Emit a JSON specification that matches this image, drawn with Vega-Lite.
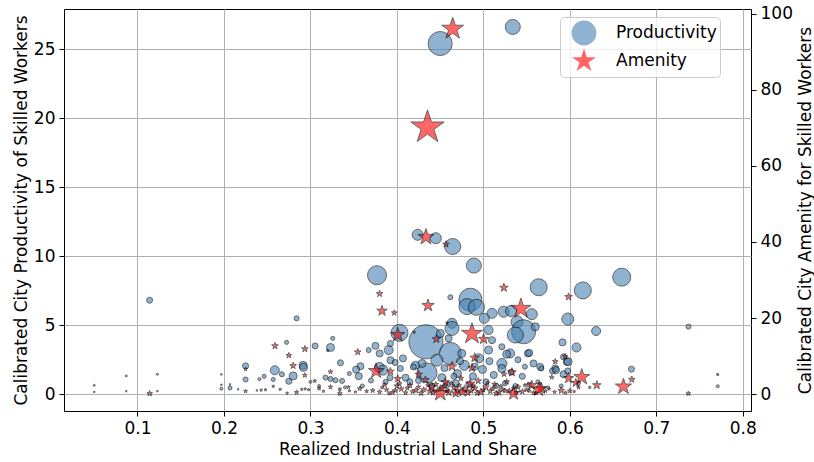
{
  "$schema": "https://vega.github.io/schema/vega-lite/v6.json",
  "width": 687,
  "height": 402,
  "autosize": {"type": "none"},
  "padding": {"left": 64, "top": 9, "right": 63, "bottom": 51},
  "background": "white",
  "config": {
    "font": "DejaVu Sans",
    "view": {"stroke": "black", "strokeWidth": 1},
    "axis": {
      "labelFont": "DejaVu Sans", "labelFontSize": 17, "labelColor": "black",
      "titleFont": "DejaVu Sans", "titleFontSize": 17, "titleFontWeight": "normal", "titleColor": "black",
      "tickColor": "black", "tickSize": 5, "tickWidth": 1, "domain": false,
      "gridColor": "#b0b0b0", "gridWidth": 1, "labelPadding": 4
    },
    "legend": {
      "labelFont": "DejaVu Sans", "labelFontSize": 17, "labelColor": "black",
      "symbolSize": 620, "symbolStrokeColor": "black", "symbolStrokeWidth": 1, "symbolOpacity": 0.6,
      "padding": 3, "rowPadding": -4, "symbolOffset": 8, "labelOffset": 19,
      "fillColor": "rgba(255,255,255,0.8)", "strokeColor": "#cccccc", "cornerRadius": 4
    }
  },
  "data": {
    "values": [
      {"series": "Productivity", "share": 0.534, "value": 26.6, "pop": 2.25},
      {"series": "Productivity", "share": 0.450, "value": 25.4, "pop": 5.76},
      {"series": "Productivity", "share": 0.424, "value": 11.55, "pop": 1.21},
      {"series": "Productivity", "share": 0.445, "value": 11.3, "pop": 1.21},
      {"series": "Productivity", "share": 0.4645, "value": 10.7, "pop": 2.56},
      {"series": "Productivity", "share": 0.489, "value": 9.32, "pop": 2.25},
      {"series": "Productivity", "share": 0.377, "value": 8.62, "pop": 3.61},
      {"series": "Productivity", "share": 0.660, "value": 8.48, "pop": 3.24},
      {"series": "Productivity", "share": 0.564, "value": 7.75, "pop": 2.89},
      {"series": "Productivity", "share": 0.615, "value": 7.52, "pop": 2.89},
      {"series": "Productivity", "share": 0.114, "value": 6.81, "pop": 0.36},
      {"series": "Productivity", "share": 0.4618, "value": 7.03, "pop": 0.25},
      {"series": "Productivity", "share": 0.485, "value": 6.85, "pop": 5.29},
      {"series": "Productivity", "share": 0.481, "value": 6.35, "pop": 2.56},
      {"series": "Productivity", "share": 0.492, "value": 6.3, "pop": 2.56},
      {"series": "Productivity", "share": 0.5234, "value": 5.98, "pop": 1.21},
      {"series": "Productivity", "share": 0.532, "value": 6.03, "pop": 1.21},
      {"series": "Productivity", "share": 0.556, "value": 5.8, "pop": 1.21},
      {"series": "Productivity", "share": 0.510, "value": 5.86, "pop": 1.0},
      {"series": "Productivity", "share": 0.501, "value": 5.5, "pop": 1.0},
      {"series": "Productivity", "share": 0.5976, "value": 5.45, "pop": 1.44},
      {"series": "Productivity", "share": 0.539, "value": 5.25, "pop": 1.44},
      {"series": "Productivity", "share": 0.4637, "value": 5.14, "pop": 1.0},
      {"series": "Productivity", "share": 0.4637, "value": 4.77, "pop": 1.96},
      {"series": "Productivity", "share": 0.5465, "value": 4.53, "pop": 5.76},
      {"series": "Productivity", "share": 0.537, "value": 4.29, "pop": 2.56},
      {"series": "Productivity", "share": 0.560, "value": 4.89, "pop": 0.64},
      {"series": "Productivity", "share": 0.506, "value": 4.65, "pop": 0.81},
      {"series": "Productivity", "share": 0.403, "value": 4.45, "pop": 2.89},
      {"series": "Productivity", "share": 0.4336, "value": 3.8, "pop": 11.56},
      {"series": "Productivity", "share": 0.6304, "value": 4.58, "pop": 0.81},
      {"series": "Productivity", "share": 0.6077, "value": 3.39, "pop": 0.81},
      {"series": "Productivity", "share": 0.5915, "value": 3.76, "pop": 0.49},
      {"series": "Productivity", "share": 0.284, "value": 5.5, "pop": 0.25},
      {"series": "Productivity", "share": 0.4618, "value": 2.96, "pop": 4.84},
      {"series": "Productivity", "share": 0.4463, "value": 2.47, "pop": 1.44},
      {"series": "Productivity", "share": 0.4348, "value": 1.55, "pop": 4.0},
      {"series": "Productivity", "share": 0.4502, "value": 4.41, "pop": 0.64},
      {"series": "Productivity", "share": 0.4598, "value": 4.05, "pop": 0.49},
      {"series": "Productivity", "share": 0.475, "value": 2.96, "pop": 0.64},
      {"series": "Productivity", "share": 0.429, "value": 2.23, "pop": 0.64},
      {"series": "Productivity", "share": 0.510, "value": 3.92, "pop": 0.49},
      {"series": "Productivity", "share": 0.506, "value": 3.2, "pop": 0.64},
      {"series": "Productivity", "share": 0.5214, "value": 3.44, "pop": 0.36},
      {"series": "Productivity", "share": 0.531, "value": 2.96, "pop": 0.81},
      {"series": "Productivity", "share": 0.5214, "value": 2.23, "pop": 1.0},
      {"series": "Productivity", "share": 0.5214, "value": 1.87, "pop": 0.64},
      {"series": "Productivity", "share": 0.5515, "value": 2.96, "pop": 0.49},
      {"series": "Productivity", "share": 0.558, "value": 2.23, "pop": 0.49},
      {"series": "Productivity", "share": 0.5658, "value": 1.98, "pop": 0.49},
      {"series": "Productivity", "share": 0.6712, "value": 1.82, "pop": 0.36},
      {"series": "Productivity", "share": 0.567, "value": 1.87, "pop": 0.25},
      {"series": "Productivity", "share": 0.5965, "value": 2.35, "pop": 0.49},
      {"series": "Productivity", "share": 0.5927, "value": 2.71, "pop": 0.36},
      {"series": "Productivity", "share": 0.5831, "value": 1.87, "pop": 0.49},
      {"series": "Productivity", "share": 0.580, "value": 1.69, "pop": 0.36},
      {"series": "Productivity", "share": 0.5927, "value": 1.45, "pop": 0.49},
      {"series": "Productivity", "share": 0.5976, "value": 1.69, "pop": 0.36},
      {"series": "Productivity", "share": 0.7372, "value": 4.9, "pop": 0.25},
      {"series": "Productivity", "share": 0.771, "value": 0.58, "pop": 0.09},
      {"series": "Productivity", "share": 0.050, "value": 0.65, "pop": 0.04},
      {"series": "Productivity", "share": 0.087, "value": 1.33, "pop": 0.04},
      {"series": "Productivity", "share": 0.123, "value": 1.45, "pop": 0.04},
      {"series": "Productivity", "share": 0.2724, "value": 3.76, "pop": 0.16},
      {"series": "Productivity", "share": 0.3054, "value": 3.5, "pop": 0.36},
      {"series": "Productivity", "share": 0.225, "value": 2.06, "pop": 0.36},
      {"series": "Productivity", "share": 0.2588, "value": 1.74, "pop": 0.81},
      {"series": "Productivity", "share": 0.2915, "value": 2.1, "pop": 0.64},
      {"series": "Productivity", "share": 0.292, "value": 1.95, "pop": 0.64},
      {"series": "Productivity", "share": 0.280, "value": 1.33, "pop": 0.64},
      {"series": "Productivity", "share": 0.275, "value": 0.94, "pop": 0.36},
      {"series": "Productivity", "share": 0.267, "value": 1.45, "pop": 0.25},
      {"series": "Productivity", "share": 0.257, "value": 1.07, "pop": 0.16},
      {"series": "Productivity", "share": 0.2465, "value": 1.3, "pop": 0.16},
      {"series": "Productivity", "share": 0.241, "value": 1.1, "pop": 0.09},
      {"series": "Productivity", "share": 0.225, "value": 1.07, "pop": 0.25},
      {"series": "Productivity", "share": 0.207, "value": 0.46, "pop": 0.16},
      {"series": "Productivity", "share": 0.197, "value": 0.41, "pop": 0.09},
      {"series": "Productivity", "share": 0.3258, "value": 4.05, "pop": 0.16},
      {"series": "Productivity", "share": 0.3232, "value": 3.39, "pop": 0.64},
      {"series": "Productivity", "share": 0.3347, "value": 2.28, "pop": 0.36},
      {"series": "Productivity", "share": 0.3674, "value": 3.2, "pop": 0.25},
      {"series": "Productivity", "share": 0.3752, "value": 3.51, "pop": 0.49},
      {"series": "Productivity", "share": 0.380, "value": 2.96, "pop": 0.49},
      {"series": "Productivity", "share": 0.3905, "value": 3.2, "pop": 0.81},
      {"series": "Productivity", "share": 0.3925, "value": 3.68, "pop": 0.36},
      {"series": "Productivity", "share": 0.3925, "value": 2.47, "pop": 0.49},
      {"series": "Productivity", "share": 0.3578, "value": 2.03, "pop": 0.49},
      {"series": "Productivity", "share": 0.3528, "value": 1.79, "pop": 0.49},
      {"series": "Productivity", "share": 0.3559, "value": 1.31, "pop": 0.49},
      {"series": "Productivity", "share": 0.3798, "value": 1.94, "pop": 1.0},
      {"series": "Productivity", "share": 0.384, "value": 1.75, "pop": 1.0},
      {"series": "Productivity", "share": 0.4214, "value": 2.1, "pop": 0.64},
      {"series": "Productivity", "share": 0.3174, "value": 1.21, "pop": 0.25},
      {"series": "Productivity", "share": 0.3232, "value": 1.11, "pop": 0.25},
      {"series": "Productivity", "share": 0.329, "value": 1.02, "pop": 0.25},
      {"series": "Productivity", "share": 0.3366, "value": 0.97, "pop": 0.25},
      {"series": "Productivity", "share": 0.419, "value": 1.98, "pop": 0.36},
      {"series": "Productivity", "share": 0.404, "value": 1.87, "pop": 0.36},
      {"series": "Productivity", "share": 0.452, "value": 1.2, "pop": 0.64},
      {"series": "Productivity", "share": 0.470, "value": 1.5, "pop": 0.64},
      {"series": "Productivity", "share": 0.478, "value": 2.1, "pop": 1.0},
      {"series": "Productivity", "share": 0.488, "value": 1.3, "pop": 0.49},
      {"series": "Productivity", "share": 0.495, "value": 2.6, "pop": 0.81},
      {"series": "Productivity", "share": 0.499, "value": 1.8, "pop": 0.64},
      {"series": "Productivity", "share": 0.512, "value": 1.4, "pop": 0.49},
      {"series": "Productivity", "share": 0.527, "value": 2.9, "pop": 0.64},
      {"series": "Productivity", "share": 0.540, "value": 2.5, "pop": 0.36},
      {"series": "Productivity", "share": 0.545, "value": 1.3, "pop": 0.36},
      {"series": "Productivity", "share": 0.410, "value": 1.2, "pop": 0.49},
      {"series": "Productivity", "share": 0.415, "value": 0.9, "pop": 0.36},
      {"series": "Productivity", "share": 0.392, "value": 1.2, "pop": 0.36},
      {"series": "Productivity", "share": 0.370, "value": 1.0, "pop": 0.25},
      {"series": "Productivity", "share": 0.360, "value": 0.6, "pop": 0.16},
      {"series": "Productivity", "share": 0.468, "value": 0.8, "pop": 0.49},
      {"series": "Productivity", "share": 0.458, "value": 0.7, "pop": 0.36},
      {"series": "Productivity", "share": 0.503, "value": 0.9, "pop": 0.36},
      {"series": "Productivity", "share": 0.525, "value": 0.8, "pop": 0.25},
      {"series": "Productivity", "share": 0.553, "value": 0.7, "pop": 0.25},
      {"series": "Productivity", "share": 0.590, "value": 0.6, "pop": 0.16},
      {"series": "Productivity", "share": 0.610, "value": 0.8, "pop": 0.16},
      {"series": "Productivity", "share": 0.584, "value": 1.75, "pop": 0.49},
      {"series": "Productivity", "share": 0.553, "value": 3.0, "pop": 0.49},
      {"series": "Productivity", "share": 0.598, "value": 2.36, "pop": 0.64},
      {"series": "Productivity", "share": 0.387, "value": 0.9, "pop": 0.25},
      {"series": "Productivity", "share": 0.398, "value": 2.3, "pop": 0.36},
      {"series": "Productivity", "share": 0.407, "value": 2.6, "pop": 0.49},
      {"series": "Productivity", "share": 0.425, "value": 1.0, "pop": 0.36},
      {"series": "Productivity", "share": 0.440, "value": 0.6, "pop": 0.36},
      {"series": "Productivity", "share": 0.455, "value": 1.9, "pop": 0.49},
      {"series": "Productivity", "share": 0.466, "value": 1.3, "pop": 0.36},
      {"series": "Productivity", "share": 0.473, "value": 2.4, "pop": 0.49},
      {"series": "Productivity", "share": 0.483, "value": 0.7, "pop": 0.36},
      {"series": "Productivity", "share": 0.490, "value": 2.0, "pop": 0.49},
      {"series": "Productivity", "share": 0.507, "value": 2.4, "pop": 0.49},
      {"series": "Productivity", "share": 0.515, "value": 0.6, "pop": 0.25},
      {"series": "Productivity", "share": 0.532, "value": 1.6, "pop": 0.36},
      {"series": "Productivity", "share": 0.537, "value": 0.6, "pop": 0.25},
      {"series": "Productivity", "share": 0.548, "value": 2.0, "pop": 0.25},
      {"series": "Productivity", "share": 0.563, "value": 0.9, "pop": 0.16},
      {"series": "Productivity", "share": 0.575, "value": 0.5, "pop": 0.09},
      {"series": "Productivity", "share": 0.345, "value": 1.5, "pop": 0.16},
      {"series": "Productivity", "share": 0.340, "value": 0.5, "pop": 0.09},
      {"series": "Productivity", "share": 0.310, "value": 0.6, "pop": 0.09},
      {"series": "Productivity", "share": 0.300, "value": 0.9, "pop": 0.09},

      {"series": "Amenity", "share": 0.4645, "value": 96.0, "pop": 5.29},
      {"series": "Amenity", "share": 0.4354, "value": 70.1, "pop": 12.25},
      {"series": "Amenity", "share": 0.4336, "value": 41.3, "pop": 2.89},
      {"series": "Amenity", "share": 0.4567, "value": 39.4, "pop": 0.49},
      {"series": "Amenity", "share": 0.380, "value": 26.4, "pop": 0.49},
      {"series": "Amenity", "share": 0.5237, "value": 28.0, "pop": 0.81},
      {"series": "Amenity", "share": 0.5985, "value": 25.6, "pop": 0.64},
      {"series": "Amenity", "share": 0.3828, "value": 21.9, "pop": 1.21},
      {"series": "Amenity", "share": 0.397, "value": 21.4, "pop": 0.36},
      {"series": "Amenity", "share": 0.436, "value": 23.3, "pop": 1.69},
      {"series": "Amenity", "share": 0.5434, "value": 22.5, "pop": 4.41},
      {"series": "Amenity", "share": 0.401, "value": 15.6, "pop": 2.25},
      {"series": "Amenity", "share": 0.4868, "value": 15.9, "pop": 4.84},
      {"series": "Amenity", "share": 0.4456, "value": 14.5, "pop": 0.81},
      {"series": "Amenity", "share": 0.5003, "value": 14.5, "pop": 1.21},
      {"series": "Amenity", "share": 0.420, "value": 16.3, "pop": 0.09},
      {"series": "Amenity", "share": 0.458, "value": 18.7, "pop": 0.09},
      {"series": "Amenity", "share": 0.490, "value": 9.6, "pop": 1.0},
      {"series": "Amenity", "share": 0.4637, "value": 7.3, "pop": 1.0},
      {"series": "Amenity", "share": 0.4868, "value": 6.9, "pop": 0.81},
      {"series": "Amenity", "share": 0.533, "value": 5.8, "pop": 0.81},
      {"series": "Amenity", "share": 0.524, "value": 5.3, "pop": 0.36},
      {"series": "Amenity", "share": 0.5831, "value": 8.6, "pop": 0.36},
      {"series": "Amenity", "share": 0.5947, "value": 9.9, "pop": 0.36},
      {"series": "Amenity", "share": 0.579, "value": 4.5, "pop": 0.25},
      {"series": "Amenity", "share": 0.5985, "value": 4.2, "pop": 1.21},
      {"series": "Amenity", "share": 0.6138, "value": 4.5, "pop": 2.89},
      {"series": "Amenity", "share": 0.6069, "value": 3.0, "pop": 0.81},
      {"series": "Amenity", "share": 0.6312, "value": 2.4, "pop": 0.81},
      {"series": "Amenity", "share": 0.662, "value": 2.0, "pop": 2.89},
      {"series": "Amenity", "share": 0.6716, "value": 3.9, "pop": 0.49},
      {"series": "Amenity", "share": 0.567, "value": 1.5, "pop": 1.44},
      {"series": "Amenity", "share": 0.5823, "value": 0.6, "pop": 0.16},
      {"series": "Amenity", "share": 0.590, "value": 1.0, "pop": 0.49},
      {"series": "Amenity", "share": 0.5349, "value": 0.2, "pop": 1.96},
      {"series": "Amenity", "share": 0.5638, "value": 1.3, "pop": 2.25},
      {"series": "Amenity", "share": 0.556, "value": 2.4, "pop": 1.0},
      {"series": "Amenity", "share": 0.4502, "value": 0.3, "pop": 2.89},
      {"series": "Amenity", "share": 0.4849, "value": 2.8, "pop": 1.0},
      {"series": "Amenity", "share": 0.456, "value": 3.2, "pop": 0.81},
      {"series": "Amenity", "share": 0.4405, "value": 1.9, "pop": 0.81},
      {"series": "Amenity", "share": 0.4252, "value": 5.2, "pop": 0.64},
      {"series": "Amenity", "share": 0.3759, "value": 6.1, "pop": 2.56},
      {"series": "Amenity", "share": 0.3925, "value": 6.0, "pop": 0.64},
      {"series": "Amenity", "share": 0.401, "value": 4.1, "pop": 0.64},
      {"series": "Amenity", "share": 0.3547, "value": 11.1, "pop": 0.49},
      {"series": "Amenity", "share": 0.320, "value": 11.5, "pop": 0.09},
      {"series": "Amenity", "share": 0.3232, "value": 5.9, "pop": 0.25},
      {"series": "Amenity", "share": 0.259, "value": 12.7, "pop": 0.49},
      {"series": "Amenity", "share": 0.275, "value": 10.2, "pop": 0.36},
      {"series": "Amenity", "share": 0.2935, "value": 11.9, "pop": 0.49},
      {"series": "Amenity", "share": 0.280, "value": 7.5, "pop": 0.49},
      {"series": "Amenity", "share": 0.2935, "value": 5.0, "pop": 0.25},
      {"series": "Amenity", "share": 0.225, "value": 6.6, "pop": 0.16},
      {"series": "Amenity", "share": 0.1141, "value": 0.2, "pop": 0.36},
      {"series": "Amenity", "share": 0.737, "value": 0.2, "pop": 0.25},
      {"series": "Amenity", "share": 0.771, "value": 5.2, "pop": 0.09},
      {"series": "Amenity", "share": 0.050, "value": 0.6, "pop": 0.04},
      {"series": "Amenity", "share": 0.087, "value": 0.8, "pop": 0.04},
      {"series": "Amenity", "share": 0.123, "value": 0.8, "pop": 0.04},
      {"series": "Amenity", "share": 0.197, "value": 5.2, "pop": 0.04},
      {"series": "Amenity", "share": 0.197, "value": 2.5, "pop": 0.04},
      {"series": "Amenity", "share": 0.207, "value": 2.6, "pop": 0.04},
      {"series": "Amenity", "share": 0.2164, "value": 1.3, "pop": 0.04},
      {"series": "Amenity", "share": 0.225, "value": 0.8, "pop": 0.16},
      {"series": "Amenity", "share": 0.238, "value": 1.0, "pop": 0.04},
      {"series": "Amenity", "share": 0.243, "value": 1.1, "pop": 0.09},
      {"series": "Amenity", "share": 0.248, "value": 1.2, "pop": 0.09},
      {"series": "Amenity", "share": 0.257, "value": 2.1, "pop": 0.09},
      {"series": "Amenity", "share": 0.265, "value": 1.3, "pop": 0.09},
      {"series": "Amenity", "share": 0.273, "value": 0.3, "pop": 0.09},
      {"series": "Amenity", "share": 0.284, "value": 0.5, "pop": 0.25},
      {"series": "Amenity", "share": 0.290, "value": 1.3, "pop": 0.09},
      {"series": "Amenity", "share": 0.294, "value": 1.4, "pop": 0.09},
      {"series": "Amenity", "share": 0.298, "value": 1.2, "pop": 0.09},
      {"series": "Amenity", "share": 0.305, "value": 3.5, "pop": 0.16},
      {"series": "Amenity", "share": 0.310, "value": 1.5, "pop": 0.16},
      {"series": "Amenity", "share": 0.3232, "value": 1.9, "pop": 0.25},
      {"series": "Amenity", "share": 0.334, "value": 1.3, "pop": 0.16},
      {"series": "Amenity", "share": 0.344, "value": 1.9, "pop": 0.16},
      {"series": "Amenity", "share": 0.357, "value": 1.5, "pop": 0.25},
      {"series": "Amenity", "share": 0.334, "value": 0.2, "pop": 0.25},
      {"series": "Amenity", "share": 0.365, "value": 0.8, "pop": 0.16},
      {"series": "Amenity", "share": 0.372, "value": 1.0, "pop": 0.25},
      {"series": "Amenity", "share": 0.380, "value": 0.6, "pop": 0.25},
      {"series": "Amenity", "share": 0.388, "value": 1.2, "pop": 0.25},
      {"series": "Amenity", "share": 0.395, "value": 0.5, "pop": 0.25},
      {"series": "Amenity", "share": 0.405, "value": 1.4, "pop": 0.36},
      {"series": "Amenity", "share": 0.410, "value": 0.4, "pop": 0.25},
      {"series": "Amenity", "share": 0.415, "value": 2.3, "pop": 0.36},
      {"series": "Amenity", "share": 0.422, "value": 1.0, "pop": 0.36},
      {"series": "Amenity", "share": 0.428, "value": 0.3, "pop": 0.36},
      {"series": "Amenity", "share": 0.433, "value": 3.8, "pop": 0.64},
      {"series": "Amenity", "share": 0.438, "value": 0.8, "pop": 0.49},
      {"series": "Amenity", "share": 0.445, "value": 2.6, "pop": 0.36},
      {"series": "Amenity", "share": 0.452, "value": 1.5, "pop": 0.49},
      {"series": "Amenity", "share": 0.460, "value": 0.5, "pop": 0.64},
      {"series": "Amenity", "share": 0.466, "value": 1.8, "pop": 0.49},
      {"series": "Amenity", "share": 0.470, "value": 0.9, "pop": 0.64},
      {"series": "Amenity", "share": 0.474, "value": 4.2, "pop": 0.36},
      {"series": "Amenity", "share": 0.478, "value": 1.3, "pop": 0.64},
      {"series": "Amenity", "share": 0.482, "value": 0.4, "pop": 0.49},
      {"series": "Amenity", "share": 0.490, "value": 1.6, "pop": 0.49},
      {"series": "Amenity", "share": 0.494, "value": 3.5, "pop": 0.49},
      {"series": "Amenity", "share": 0.497, "value": 0.6, "pop": 0.64},
      {"series": "Amenity", "share": 0.503, "value": 1.9, "pop": 0.49},
      {"series": "Amenity", "share": 0.508, "value": 0.8, "pop": 0.36},
      {"series": "Amenity", "share": 0.513, "value": 2.6, "pop": 0.36},
      {"series": "Amenity", "share": 0.518, "value": 0.5, "pop": 0.49},
      {"series": "Amenity", "share": 0.522, "value": 1.3, "pop": 0.36},
      {"series": "Amenity", "share": 0.527, "value": 3.3, "pop": 0.36},
      {"series": "Amenity", "share": 0.530, "value": 0.9, "pop": 0.36},
      {"series": "Amenity", "share": 0.540, "value": 1.9, "pop": 0.36},
      {"series": "Amenity", "share": 0.545, "value": 0.7, "pop": 0.36},
      {"series": "Amenity", "share": 0.550, "value": 1.2, "pop": 0.25},
      {"series": "Amenity", "share": 0.558, "value": 0.4, "pop": 0.25},
      {"series": "Amenity", "share": 0.572, "value": 0.9, "pop": 0.16},
      {"series": "Amenity", "share": 0.600, "value": 0.9, "pop": 0.25},
      {"series": "Amenity", "share": 0.610, "value": 1.8, "pop": 0.16},
      {"series": "Amenity", "share": 0.623, "value": 1.8, "pop": 0.09},
      {"series": "Amenity", "share": 0.468, "value": 0.2, "pop": 0.81},
      {"series": "Amenity", "share": 0.476, "value": 0.6, "pop": 1.0},
      {"series": "Amenity", "share": 0.400, "value": 2.2, "pop": 0.36},
      {"series": "Amenity", "share": 0.386, "value": 2.5, "pop": 0.25},
      {"series": "Amenity", "share": 0.383, "value": 1.8, "pop": 0.16},
      {"series": "Amenity", "share": 0.391, "value": 0.2, "pop": 0.16},
      {"series": "Amenity", "share": 0.398, "value": 1.0, "pop": 0.25},
      {"series": "Amenity", "share": 0.403, "value": 2.8, "pop": 0.25},
      {"series": "Amenity", "share": 0.412, "value": 1.6, "pop": 0.25},
      {"series": "Amenity", "share": 0.418, "value": 0.7, "pop": 0.25},
      {"series": "Amenity", "share": 0.425, "value": 1.9, "pop": 0.25},
      {"series": "Amenity", "share": 0.431, "value": 1.2, "pop": 0.36},
      {"series": "Amenity", "share": 0.436, "value": 2.4, "pop": 0.25},
      {"series": "Amenity", "share": 0.442, "value": 0.4, "pop": 0.36},
      {"series": "Amenity", "share": 0.447, "value": 1.1, "pop": 0.25},
      {"series": "Amenity", "share": 0.455, "value": 2.1, "pop": 0.36},
      {"series": "Amenity", "share": 0.458, "value": 0.9, "pop": 0.25},
      {"series": "Amenity", "share": 0.463, "value": 2.9, "pop": 0.25},
      {"series": "Amenity", "share": 0.472, "value": 2.3, "pop": 0.25},
      {"series": "Amenity", "share": 0.486, "value": 0.9, "pop": 0.36},
      {"series": "Amenity", "share": 0.488, "value": 2.2, "pop": 0.25},
      {"series": "Amenity", "share": 0.493, "value": 0.3, "pop": 0.36},
      {"series": "Amenity", "share": 0.500, "value": 1.1, "pop": 0.25},
      {"series": "Amenity", "share": 0.505, "value": 3.0, "pop": 0.16},
      {"series": "Amenity", "share": 0.511, "value": 1.5, "pop": 0.25},
      {"series": "Amenity", "share": 0.515, "value": 0.2, "pop": 0.36},
      {"series": "Amenity", "share": 0.520, "value": 2.2, "pop": 0.16},
      {"series": "Amenity", "share": 0.525, "value": 0.9, "pop": 0.25},
      {"series": "Amenity", "share": 0.535, "value": 1.6, "pop": 0.25},
      {"series": "Amenity", "share": 0.538, "value": 0.5, "pop": 0.25},
      {"series": "Amenity", "share": 0.548, "value": 2.4, "pop": 0.16},
      {"series": "Amenity", "share": 0.553, "value": 0.9, "pop": 0.16},
      {"series": "Amenity", "share": 0.561, "value": 0.3, "pop": 0.16},
      {"series": "Amenity", "share": 0.566, "value": 2.8, "pop": 0.09},
      {"series": "Amenity", "share": 0.576, "value": 1.4, "pop": 0.09},
      {"series": "Amenity", "share": 0.595, "value": 0.4, "pop": 0.16},
      {"series": "Amenity", "share": 0.605, "value": 0.7, "pop": 0.09},
      {"series": "Amenity", "share": 0.352, "value": 0.6, "pop": 0.09},
      {"series": "Amenity", "share": 0.345, "value": 0.9, "pop": 0.09},
      {"series": "Amenity", "share": 0.315, "value": 0.8, "pop": 0.09}
    ]
  },
  "layer": [
    {
      "transform": [{"filter": "datum.series === 'Productivity'"}],
      "mark": {"type": "point", "filled": true, "opacity": 0.6, "stroke": "black", "strokeWidth": 1},
      "encoding": {
        "x": {
          "field": "share", "type": "quantitative",
          "scale": {"domain": [0.015, 0.8095], "nice": false, "zero": false},
          "axis": {"title": "Realized Industrial Land Share", "values": [0.1, 0.2, 0.3, 0.4, 0.5, 0.6, 0.7, 0.8], "format": ".1f", "grid": true, "titlePadding": 5}
        },
        "y": {
          "field": "value", "type": "quantitative",
          "scale": {"domain": [-1.21, 27.9], "nice": false, "zero": false},
          "axis": {"title": "Calibrated City Productivity of Skilled Workers", "orient": "left", "values": [0, 5, 10, 15, 20, 25], "grid": true, "titlePadding": 3}
        },
        "color": {
          "field": "series", "type": "nominal",
          "scale": {"domain": ["Productivity", "Amenity"], "range": ["#4682b4", "#ff0000"]},
          "legend": {"title": null, "orient": "none", "legendX": 496, "legendY": 8}
        },
        "shape": {
          "field": "series", "type": "nominal",
          "scale": {"domain": ["Productivity", "Amenity"], "range": ["circle", "M0,-1L0.2245,-0.309L0.951,-0.309L0.3633,0.118L0.5878,0.809L0,0.382L-0.5878,0.809L-0.3633,0.118L-0.951,-0.309L-0.2245,-0.309Z"]},
          "legend": {"title": null, "orient": "none", "legendX": 496, "legendY": 8}
        },
        "size": {
          "field": "pop", "type": "quantitative",
          "scale": {"type": "linear", "domain": [0, 10], "range": [0, 1000], "zero": true},
          "legend": null
        }
      }
    },
    {
      "transform": [{"filter": "datum.series === 'Amenity'"}],
      "mark": {"type": "point", "filled": true, "opacity": 0.6, "stroke": "black", "strokeWidth": 1},
      "encoding": {
        "x": {"field": "share", "type": "quantitative"},
        "y": {
          "field": "value", "type": "quantitative",
          "scale": {"domain": [-4.39, 101.2], "nice": false, "zero": false},
          "axis": {"title": "Calibrated City Amenity for Skilled Workers", "orient": "right", "values": [0, 20, 40, 60, 80, 100], "grid": false, "titleAngle": 270, "titlePadding": 22}
        },
        "color": {"field": "series", "type": "nominal"},
        "shape": {"field": "series", "type": "nominal"},
        "size": {"field": "pop", "type": "quantitative"}
      }
    }
  ],
  "resolve": {"scale": {"y": "independent"}}
}
